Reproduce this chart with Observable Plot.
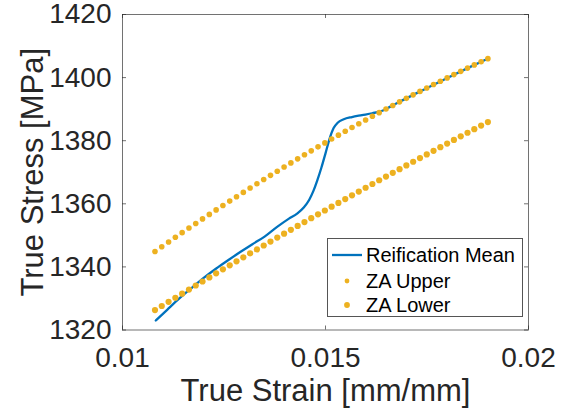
<!DOCTYPE html>
<html>
<head>
<meta charset="utf-8">
<script src="https://cdn.jsdelivr.net/npm/d3@7"></script>
<script src="https://cdn.jsdelivr.net/npm/@observablehq/plot@0.6"></script>
<style>
  html, body { margin: 0; padding: 0; background: #fff; }
  #wrap { position: relative; width: 561px; height: 412px; font-family: "Liberation Sans", Arial, sans-serif; }
  #legend { position: absolute; left: 327px; top: 238px; width: 196px; height: 79px;
            border: 1px solid #555; background: #fff; box-sizing: border-box; }
  #legend svg { display: block; }
</style>
</head>
<body>
<div id="wrap"></div>
<script>
// ---- data ----
const xTicks = [0.01, 0.015, 0.02];
const xTickLabels = ["0.01", "0.015", "0.02"];
const yTicks = [1320, 1340, 1360, 1380, 1400, 1420];
const yTickLabels = ["1320", "1340", "1360", "1380", "1400", "1420"];

const zaStrain = [
  0.010800, 0.010967, 0.011135, 0.011302, 0.011469, 0.011637, 0.011804, 0.011971, 0.012139, 0.012306,
  0.012473, 0.012641, 0.012808, 0.012976, 0.013143, 0.013310, 0.013478, 0.013645, 0.013812, 0.013980,
  0.014147, 0.014314, 0.014482, 0.014649, 0.014816, 0.014984, 0.015151, 0.015318, 0.015486, 0.015653,
  0.015820, 0.015988, 0.016155, 0.016322, 0.016490, 0.016657, 0.016824, 0.016992, 0.017159, 0.017327,
  0.017494, 0.017661, 0.017829, 0.017996, 0.018163, 0.018331, 0.018498, 0.018665, 0.018833, 0.019000
];
const zaUpper = [
  1344.90, 1346.40, 1347.90, 1349.38, 1350.85, 1352.32, 1353.77, 1355.21, 1356.64, 1358.06,
  1359.46, 1360.86, 1362.25, 1363.62, 1364.99, 1366.34, 1367.69, 1369.02, 1370.34, 1371.66,
  1372.96, 1374.25, 1375.53, 1376.79, 1378.05, 1379.30, 1380.53, 1381.76, 1382.98, 1384.18,
  1385.37, 1386.56, 1387.73, 1388.89, 1390.04, 1391.18, 1392.31, 1393.43, 1394.53, 1395.63,
  1396.72, 1397.79, 1398.85, 1399.91, 1400.95, 1401.98, 1403.01, 1404.02, 1405.02, 1406.01
];
const zaLower = [
  1326.30, 1327.61, 1328.92, 1330.22, 1331.51, 1332.81, 1334.10, 1335.38, 1336.67, 1337.95,
  1339.22, 1340.49, 1341.76, 1343.02, 1344.28, 1345.53, 1346.79, 1348.03, 1349.28, 1350.52,
  1351.75, 1352.98, 1354.21, 1355.43, 1356.66, 1357.87, 1359.08, 1360.29, 1361.50, 1362.70,
  1363.89, 1365.09, 1366.28, 1367.46, 1368.64, 1369.82, 1370.99, 1372.16, 1373.33, 1374.49,
  1375.65, 1376.80, 1377.95, 1379.10, 1380.24, 1381.38, 1382.52, 1383.65, 1384.78, 1385.90
];

const meanStrain = [
  0.01082, 0.01110, 0.01140, 0.01170, 0.01200, 0.01230, 0.01260, 0.01290, 0.01320, 0.01350,
  0.01380, 0.01410, 0.01430, 0.01447, 0.01460, 0.01470, 0.01480, 0.01490, 0.01500, 0.01510,
  0.01520, 0.01530, 0.01545, 0.01565, 0.01590, 0.01615, 0.01640, 0.01660, 0.01700, 0.01750,
  0.01800, 0.01850, 0.01900
];
const meanStress = [
  1323.0, 1326.4, 1330.0, 1333.3, 1336.5, 1339.4, 1342.1, 1344.7, 1347.2, 1349.6,
  1352.6, 1355.3, 1356.9, 1358.9, 1361.3, 1364.0, 1367.5, 1371.5, 1376.0, 1380.6,
  1384.0, 1385.7, 1386.8, 1387.5, 1388.1, 1388.7, 1389.5, 1390.8, 1393.5, 1396.7,
  1399.9, 1403.0, 1406.0
];

const seriesNames = ["Reification Mean", "ZA Upper", "ZA Lower"];
const axisLabels = {x: "True Strain [mm/mm]", y: "True Stress [MPa]"};

// ---- build ----
const upperData = zaStrain.map((s, i) => ({s, v: zaUpper[i]}));
const lowerData = zaStrain.map((s, i) => ({s, v: zaLower[i]}));
const meanData = meanStrain.map((s, i) => ({s, v: meanStress[i]}));

const W = 561, H = 412;
const mL = 122, mR = 33, mT = 14, mB = 82.5;
const innerW = W - mL - mR, innerH = H - mT - mB;
const tickLen = 4;
const axisCol = "#262626";
const blue = "#0072BD", gold = "#EDB120";
const font = "'Liberation Sans', Arial, Helvetica, sans-serif";

const chart = Plot.plot({
  width: W, height: H,
  marginLeft: mL, marginRight: mR, marginTop: mT, marginBottom: mB,
  style: {fontFamily: font, background: "#fff", color: axisCol, overflow: "visible"},
  x: {domain: [0.01, 0.02]},
  y: {domain: [1320, 1420]},
  marks: [
    Plot.line(meanData, {x: "s", y: "v", stroke: blue, strokeWidth: 2.3, curve: "monotone-x"}),
    Plot.dot(upperData, {x: "s", y: "v", r: 2.8, fill: gold, stroke: "none"}),
    Plot.dot(lowerData, {x: "s", y: "v", r: 3.1, fill: gold, stroke: "none"}),
    Plot.frame({stroke: axisCol, strokeOpacity: 0.65, strokeWidth: 1}),
    Plot.tickX(xTicks, {x: d => d, stroke: axisCol, strokeOpacity: 0.65, insetTop: innerH - tickLen}),
    Plot.tickX(xTicks, {x: d => d, stroke: axisCol, strokeOpacity: 0.65, insetBottom: innerH - tickLen}),
    Plot.tickY(yTicks, {y: d => d, stroke: axisCol, strokeOpacity: 0.65, insetRight: innerW - tickLen}),
    Plot.tickY(yTicks, {y: d => d, stroke: axisCol, strokeOpacity: 0.65, insetLeft: innerW - tickLen}),
    Plot.axisX(xTicks, {tickSize: 0, tickPadding: 17, fontSize: 28, label: null,
      tickFormat: (d) => xTickLabels[xTicks.indexOf(d)]}),
    Plot.axisY(yTicks, {tickSize: 0, tickPadding: 11, fontSize: 28, label: null,
      tickFormat: (d) => yTickLabels[yTicks.indexOf(d)]}),
    Plot.text([axisLabels.x], {text: d => d, frameAnchor: "bottom", dy: 71, textAnchor: "middle",
      lineAnchor: "bottom", fontSize: 31, fill: axisCol}),
    Plot.text([axisLabels.y], {text: d => d, frameAnchor: "left", dx: -80, rotate: -90, textAnchor: "middle",
      lineAnchor: "bottom", fontSize: 31, fill: axisCol})
  ]
});

const wrap = document.getElementById("wrap");
wrap.appendChild(chart);

// ---- legend (inside the axes, lower right) ----
const leg = document.createElement("div");
leg.id = "legend";
const ns = "http://www.w3.org/2000/svg";
const lsvg = document.createElementNS(ns, "svg");
lsvg.setAttribute("width", 194); lsvg.setAttribute("height", 77);
const rowsY = [16, 42, 66];
seriesNames.forEach((name, i) => {
  const y = rowsY[i];
  if (i === 0) {
    const l = document.createElementNS(ns, "line");
    l.setAttribute("x1", 4); l.setAttribute("x2", 34); l.setAttribute("y1", y); l.setAttribute("y2", y);
    l.setAttribute("stroke", blue); l.setAttribute("stroke-width", 2.3);
    lsvg.appendChild(l);
  } else {
    const c = document.createElementNS(ns, "circle");
    c.setAttribute("cx", 19); c.setAttribute("cy", y); c.setAttribute("r", i === 1 ? 2.4 : 2.9);
    c.setAttribute("fill", gold);
    lsvg.appendChild(c);
  }
  const t = document.createElementNS(ns, "text");
  t.setAttribute("x", 38); t.setAttribute("y", y + 7);
  t.setAttribute("font-family", font); t.setAttribute("font-size", 20); t.setAttribute("fill", "#000");
  t.textContent = name;
  lsvg.appendChild(t);
});
leg.appendChild(lsvg);
wrap.appendChild(leg);
</script>
</body>
</html>
